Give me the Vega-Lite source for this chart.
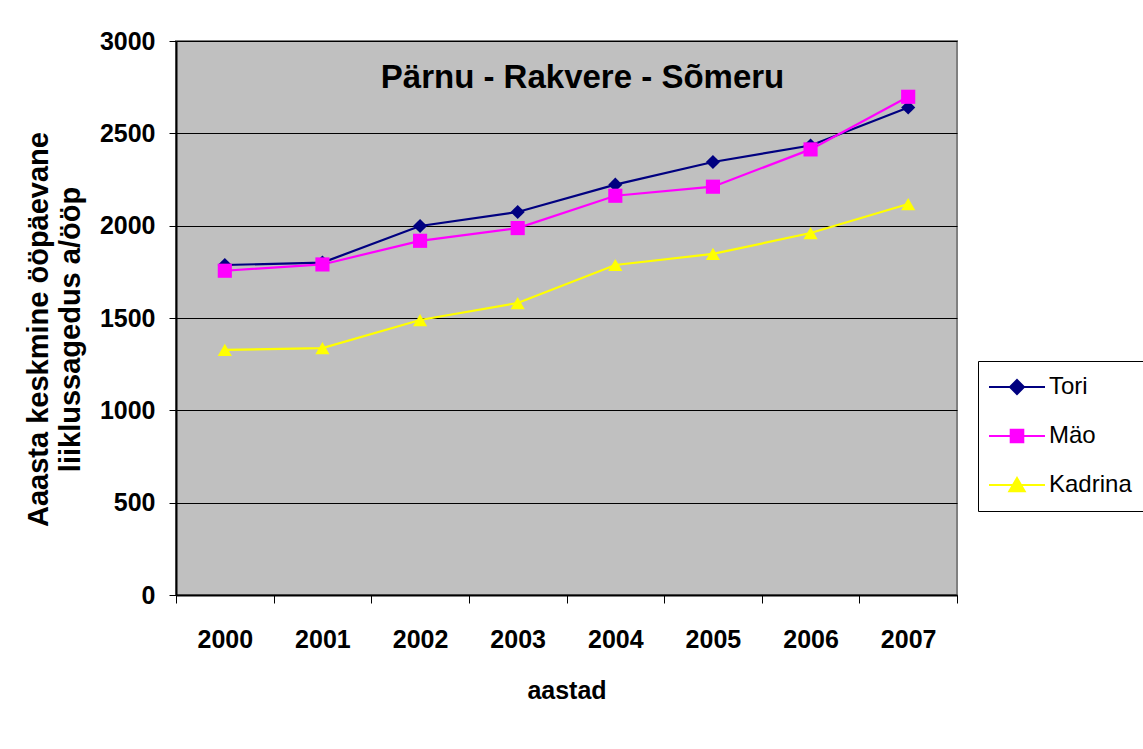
{
  "$schema": "https://vega.github.io/schema/vega-lite/v6.json",
  "width": 781,
  "height": 554,
  "autosize": "none",
  "padding": {"left": 176, "top": 41, "right": 186, "bottom": 154},
  "background": "white",
  "config": {
    "font": "Liberation Sans",
    "view": {"fill": "#C0C0C0", "stroke": "#808080", "strokeWidth": 2}
  },
  "title": {
    "text": "Pärnu - Rakvere - Sõmeru",
    "fontSize": 33,
    "fontWeight": "bold",
    "font": "Liberation Sans",
    "color": "black",
    "anchor": "middle",
    "dx": 16,
    "dy": 70
  },
  "data": {
    "values": [
      {"year": 2000, "series": "Tori", "value": 1787},
      {"year": 2001, "series": "Tori", "value": 1800},
      {"year": 2002, "series": "Tori", "value": 1998},
      {"year": 2003, "series": "Tori", "value": 2074},
      {"year": 2004, "series": "Tori", "value": 2222},
      {"year": 2005, "series": "Tori", "value": 2345},
      {"year": 2006, "series": "Tori", "value": 2434},
      {"year": 2007, "series": "Tori", "value": 2640},
      {"year": 2000, "series": "Mäo", "value": 1756},
      {"year": 2001, "series": "Mäo", "value": 1790},
      {"year": 2002, "series": "Mäo", "value": 1918},
      {"year": 2003, "series": "Mäo", "value": 1987},
      {"year": 2004, "series": "Mäo", "value": 2162},
      {"year": 2005, "series": "Mäo", "value": 2211},
      {"year": 2006, "series": "Mäo", "value": 2413},
      {"year": 2007, "series": "Mäo", "value": 2698},
      {"year": 2000, "series": "Kadrina", "value": 1327},
      {"year": 2001, "series": "Kadrina", "value": 1337},
      {"year": 2002, "series": "Kadrina", "value": 1489},
      {"year": 2003, "series": "Kadrina", "value": 1581},
      {"year": 2004, "series": "Kadrina", "value": 1787},
      {"year": 2005, "series": "Kadrina", "value": 1847},
      {"year": 2006, "series": "Kadrina", "value": 1960},
      {"year": 2007, "series": "Kadrina", "value": 2117}
    ]
  },
  "encoding": {
    "x": {
      "field": "year",
      "type": "quantitative",
      "scale": {"domain": [1999.5, 2007.5], "nice": false, "zero": false},
      "axis": {
        "values": [1999.5, 2000.5, 2001.5, 2002.5, 2003.5, 2004.5, 2005.5, 2006.5, 2007.5],
        "labelExpr": "datum.value > 2007 ? '' : format(datum.value + 0.5, 'd')",
        "labelOffset": 48.8,
        "labelFlush": false,
        "labelOverlap": false,
        "labelBound": false,
        "labelFontSize": 25,
        "labelFontWeight": "bold",
        "labelColor": "black",
        "labelPadding": 24,
        "tickSize": 8,
        "tickColor": "black",
        "domainColor": "black",
        "domainWidth": 2,
        "grid": false,
        "title": "aastad",
        "titleFontSize": 25,
        "titleFontWeight": "bold",
        "titleColor": "black",
        "titlePadding": 26
      }
    },
    "y": {
      "field": "value",
      "type": "quantitative",
      "scale": {"domain": [0, 3000], "nice": false},
      "axis": {
        "values": [0, 500, 1000, 1500, 2000, 2500, 3000],
        "format": "d",
        "labelFontSize": 25,
        "labelFontWeight": "bold",
        "labelColor": "black",
        "labelPadding": 14,
        "tickSize": 7,
        "tickColor": "black",
        "domainColor": "black",
        "domainWidth": 2,
        "grid": true,
        "gridColor": "black",
        "gridWidth": 1,
        "title": ["Aaasta keskmine ööpäevane", "liiklussagedus a/ööp"],
        "titleFontSize": 29,
        "titleFontWeight": "bold",
        "titleColor": "black",
        "titleLineHeight": 32,
        "titleBaseline": "middle",
        "titleX": -138,
        "titleY": 288
      }
    }
  },
  "layer": [
    {
      "mark": {"type": "line", "strokeWidth": 2.2},
      "encoding": {
        "color": {
          "field": "series",
          "type": "nominal",
          "scale": {"domain": ["Tori", "Mäo", "Kadrina"], "range": ["#000080", "#FF00FF", "#FFFF00"]},
          "legend": null
        }
      }
    },
    {
      "mark": {"type": "point", "filled": true, "opacity": 1, "size": 200},
      "encoding": {
        "color": {"field": "series", "type": "nominal", "legend": null},
        "shape": {
          "field": "series",
          "type": "nominal",
          "scale": {"domain": ["Tori", "Mäo", "Kadrina"], "range": ["diamond", "square", "triangle-up"]},
          "legend": null
        }
      }
    },
    {
      "mark": {"type": "point", "opacity": 0, "size": 196, "strokeWidth": 2},
      "encoding": {
        "fill": {
          "field": "series",
          "type": "nominal",
          "scale": {"domain": ["Tori", "Mäo", "Kadrina"], "range": ["#000080", "#FF00FF", "#FFFF00"]}
        },
        "stroke": {
          "field": "series",
          "type": "nominal",
          "scale": {"domain": ["Tori", "Mäo", "Kadrina"], "range": ["#000080", "#FF00FF", "#FFFF00"]}
        },
        "shape": {
          "field": "series",
          "type": "nominal",
          "scale": {
            "domain": ["Tori", "Mäo", "Kadrina"],
            "range": [
              "M-4,0H4M0,-1L1,0L0,1L-1,0Z",
              "M-4,0H4M-0.9,-0.9H0.9V0.9H-0.9Z",
              "M-4,0H4M0,-1L1.1,0.9H-1.1Z"
            ]
          },
          "legend": {
            "orient": "none",
            "legendX": 802,
            "legendY": 320,
            "title": null,
            "strokeColor": "black",
            "fillColor": "white",
            "padding": 14,
            "symbolOffset": 13,
            "labelOffset": 20,
            "labelFontSize": 24,
            "labelColor": "black",
            "labelFont": "Liberation Sans",
            "rowPadding": 25,
            "symbolOpacity": 1,
            "symbolStrokeWidth": 2,
            "symbolSize": 196
          }
        }
      }
    }
  ],
  "resolve": {
    "scale": {"shape": "independent", "fill": "independent", "stroke": "independent"},
    "legend": {"shape": "independent", "fill": "independent", "stroke": "independent"}
  }
}
